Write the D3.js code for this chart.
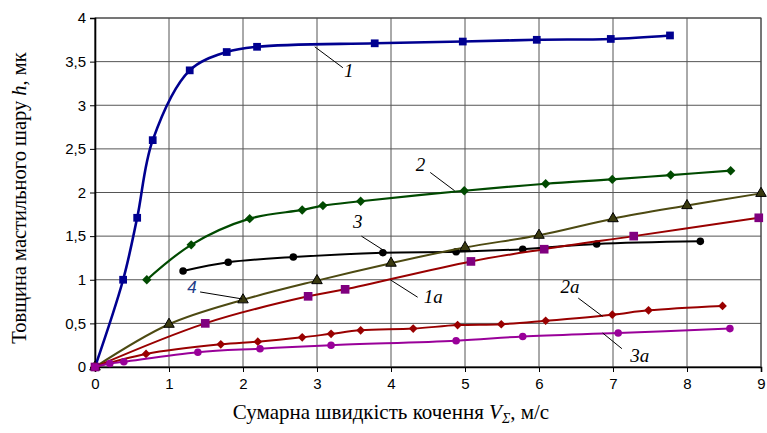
<!DOCTYPE html>
<html>
<head>
<meta charset="utf-8">
<script src="https://cdn.jsdelivr.net/npm/d3@7"></script>
<style>
  html, body { margin: 0; padding: 0; background: #fff; }
  svg { display: block; }
</style>
</head>
<body>
<div id="chart"></div>
<script>
// tick values
const xTicks = [0, 1, 2, 3, 4, 5, 6, 7, 8, 9];
const yTicks = [0, 0.5, 1, 1.5, 2, 2.5, 3, 3.5, 4];

// series values (V, h)
const v1 = [0, 0.38, 0.57, 0.78, 1.28, 1.78, 2.19, 3.78, 4.97, 5.97, 6.97, 7.77];
const h1 = [0, 1.0, 1.71, 2.6, 3.4, 3.61, 3.67, 3.71, 3.73, 3.75, 3.76, 3.8];

const v2 = [0.7, 1.3, 2.09, 2.8, 3.08, 3.59, 4.99, 6.09, 6.99, 7.78, 8.59];
const h2 = [1.0, 1.4, 1.7, 1.8, 1.85, 1.9, 2.02, 2.1, 2.15, 2.2, 2.25];

const v3 = [1.19, 1.8, 2.68, 3.89, 4.88, 5.78, 6.78, 8.18];
const h3 = [1.1, 1.2, 1.26, 1.31, 1.32, 1.35, 1.41, 1.44];

const v4 = [0, 1, 2, 3, 4, 5, 6, 7, 8, 9];
const h4 = [0, 0.49, 0.77, 0.99, 1.19, 1.37, 1.51, 1.7, 1.85, 1.99];

const v1a = [0, 1.49, 2.88, 3.38, 5.08, 6.07, 7.28, 8.97];
const h1a = [0, 0.5, 0.81, 0.89, 1.21, 1.35, 1.5, 1.71];

const v2a = [0, 0.69, 1.7, 2.2, 2.8, 3.19, 3.59, 4.3, 4.9, 5.49, 6.09, 6.99, 7.48, 8.48];
const h2a = [0, 0.15, 0.26, 0.29, 0.34, 0.38, 0.42, 0.44, 0.48, 0.49, 0.53, 0.6, 0.65, 0.7];

const v3a = [0, 0.2, 0.39, 1.39, 2.23, 3.19, 4.88, 5.78, 7.07, 8.58];
const h3a = [0, 0.04, 0.06, 0.17, 0.21, 0.25, 0.3, 0.35, 0.39, 0.44];

const width = 767, height = 433;
const margin = { top: 18, right: 6, bottom: 66, left: 95 };
const w = width - margin.left - margin.right;
const h = height - margin.top - margin.bottom;

const svg = d3.select('#chart').append('svg')
  .attr('width', width)
  .attr('height', height);

const x = d3.scaleLinear().domain([0, 9]).range([0, w]);
const y = d3.scaleLinear().domain([0, 4]).range([h, 0]);

const g = svg.append('g').attr('transform', `translate(${margin.left},${margin.top})`);

// grid
g.append('g').selectAll('line').data(xTicks).enter().append('line')
  .attr('x1', d => x(d)).attr('x2', d => x(d))
  .attr('y1', 0).attr('y2', h)
  .attr('stroke', '#555').attr('stroke-width', 1);
g.append('g').selectAll('line').data(yTicks).enter().append('line')
  .attr('x1', 0).attr('x2', w)
  .attr('y1', d => y(d)).attr('y2', d => y(d))
  .attr('stroke', '#555').attr('stroke-width', 1);

// frame
g.append('rect').attr('width', w).attr('height', h)
  .attr('fill', 'none').attr('stroke', '#444').attr('stroke-width', 1);

// axes
const fmt = d => String(d).replace('.', ',');
const xAxis = g.append('g').attr('transform', `translate(0,${h})`)
  .call(d3.axisBottom(x).tickValues(xTicks).tickSize(5).tickPadding(6).tickFormat(fmt));
const yAxis = g.append('g')
  .call(d3.axisLeft(y).tickValues(yTicks).tickSize(5).tickPadding(4).tickFormat(fmt));
[xAxis, yAxis].forEach(a => {
  a.select('.domain').attr('stroke', '#000').attr('stroke-width', 1.6);
  a.selectAll('.tick line').attr('stroke', '#000');
  a.selectAll('text').attr('fill', '#000')
    .style('font-family', '"Liberation Sans", Arial, sans-serif')
    .style('font-size', '15px');
});

// series
const series = [
  { v: v1, hh: h1, line: '#000090', fill: '#000090', marker: 'square', size: 60, lw: 2.6 },
  { v: v2, hh: h2, line: '#004a00', fill: '#004a00', marker: 'diamond', size: 44, lw: 2.2 },
  { v: v3, hh: h3, line: '#000', fill: '#000', marker: 'circle', size: 45, lw: 2 },
  { v: v4, hh: h4, line: '#4d4a12', fill: '#3a3a10', marker: 'triangle', size: 48, lw: 2 },
  { v: v1a, hh: h1a, line: '#990000', fill: '#80007f', marker: 'square', size: 75, lw: 2 },
  { v: v2a, hh: h2a, line: '#990000', fill: '#990000', marker: 'diamond', size: 38, lw: 2 },
  { v: v3a, hh: h3a, line: '#990099', fill: '#990099', marker: 'circle', size: 45, lw: 2 }
];
const symbols = {
  square: d3.symbolSquare, diamond: d3.symbolSquare,
  circle: d3.symbolCircle, triangle: d3.symbolTriangle
};

const line = d3.line()
  .x(d => x(d[0])).y(d => y(d[1]))
  .curve(d3.curveCatmullRom.alpha(0.5));

series.forEach(s => {
  const pts = s.v.map((vv, i) => [vv, s.hh[i]]);
  g.append('path').datum(pts)
    .attr('d', line)
    .attr('fill', 'none')
    .attr('stroke', s.line)
    .attr('stroke-width', s.lw);
  const rot = s.marker === 'diamond' ? ' rotate(45)' : '';
  g.append('g').selectAll('path').data(pts).enter().append('path')
    .attr('transform', d => `translate(${x(d[0])},${y(d[1])})${rot}`)
    .attr('d', d3.symbol().type(symbols[s.marker]).size(s.size))
    .attr('fill', s.fill)
    .attr('stroke', s.marker === 'triangle' ? '#000' : 'none')
    .attr('stroke-width', 1);
});

// curve labels with leader lines: [text, labelV, labelH, fromV, fromH, toV, toH]
const labels = [
  ['1', 3.43, 3.32, 2.97, 3.67, 3.35, 3.43],
  ['2', 4.4, 2.25, 4.53, 2.23, 4.86, 2.02],
  ['3', 3.55, 1.59, 3.6, 1.5, 3.95, 1.31],
  ['1а', 4.57, 0.73, 3.99, 1.0, 4.36, 0.8],
  ['2а', 6.42, 0.85, 6.53, 0.79, 6.86, 0.58],
  ['3а', 7.36, 0.06, 6.86, 0.39, 7.12, 0.21]
];
labels.forEach(l => {
  g.append('line')
    .attr('x1', x(l[3])).attr('y1', y(l[4]))
    .attr('x2', x(l[5])).attr('y2', y(l[6]))
    .attr('stroke', '#000').attr('stroke-width', 1);
  g.append('text')
    .attr('x', x(l[1])).attr('y', y(l[2]))
    .attr('text-anchor', 'middle')
    .style('font-family', '"Liberation Serif", "Times New Roman", serif')
    .style('font-style', 'italic')
    .style('font-size', '19px')
    .text(l[0]);
});
// label 4 (blue, sans)
g.append('line')
  .attr('x1', x(1.42)).attr('y1', y(0.86))
  .attr('x2', x(1.99)).attr('y2', y(0.78))
  .attr('stroke', '#000').attr('stroke-width', 1);
g.append('text')
  .attr('x', x(1.31)).attr('y', y(0.85))
  .attr('text-anchor', 'middle')
  .attr('fill', '#1f3c88')
  .style('font-family', '"Liberation Sans", Arial, sans-serif')
  .style('font-style', 'italic')
  .style('font-size', '17px')
  .text('4');

// axis titles
const yt = svg.append('text')
  .attr('transform', 'translate(26,198) rotate(-90)')
  .attr('text-anchor', 'middle')
  .style('font-family', '"Liberation Serif", "Times New Roman", serif')
  .style('font-size', '20.5px');
yt.append('tspan').text('Товщина мастильного шару ');
yt.append('tspan').style('font-style', 'italic').text('h');
yt.append('tspan').text(', мк');

const xt = svg.append('text')
  .attr('x', 391)
  .attr('y', 419)
  .attr('text-anchor', 'middle')
  .style('font-family', '"Liberation Serif", "Times New Roman", serif')
  .style('font-size', '21px');
xt.append('tspan').text('Сумарна швидкість кочення ');
xt.append('tspan').style('font-style', 'italic').text('V');
xt.append('tspan').style('font-style', 'italic').style('font-size', '14px').attr('dy', 4).text('Σ');
xt.append('tspan').attr('dy', -4).text(', м/с');
</script>
</body>
</html>
